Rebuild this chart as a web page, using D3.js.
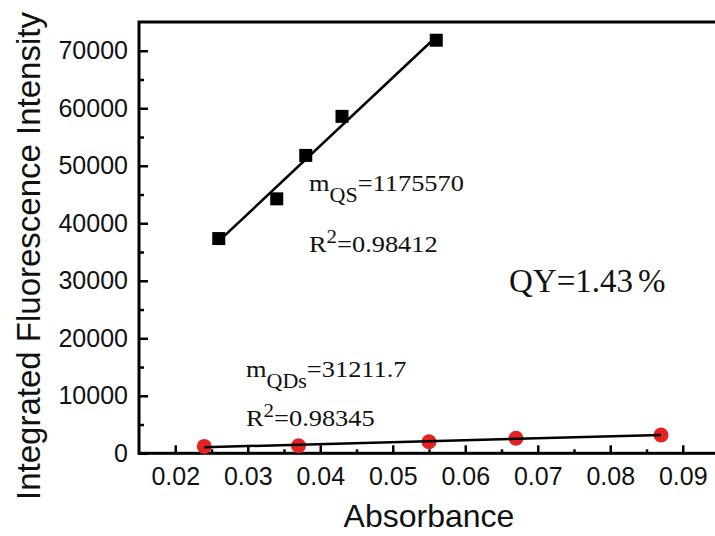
<!DOCTYPE html>
<html>
<head>
<meta charset="utf-8">
<script src="https://cdn.jsdelivr.net/npm/d3@7"></script>
<style>
    body { margin: 0; background: #fff; }
    svg { display: block; overflow: hidden; }
    .tick text { font-family: "Liberation Sans", Arial, sans-serif; font-size: 25px; fill: #111; }
    .note { font-family: "Liberation Serif", "Times New Roman", serif; fill: #111; }
</style>
</head>
<body>
<svg id="chart" width="715" height="536"></svg>
<script>
// reference dye (QS) - black squares
const qsAbs = [0.026, 0.034, 0.038, 0.043, 0.056];
const qsIntensity = [37340, 44250, 51800, 58590, 71830];
// quantum dots (QDs) - red circles
const qdAbs = [0.024, 0.037, 0.055, 0.067, 0.087];
const qdIntensity = [1200, 1320, 2020, 2610, 3190];

const xTicks = [0.02, 0.03, 0.04, 0.05, 0.06, 0.07, 0.08, 0.09];
const yTicks = [0, 10000, 20000, 30000, 40000, 50000, 60000, 70000];

const svg = d3.select('#chart');
const margin = { left: 139, top: 22 };
const plotW = 580, plotH = 431.3;

const x = d3.scaleLinear().domain([0.015, 0.095]).range([margin.left, margin.left + plotW]);
const y = d3.scaleLinear().domain([0, 75000]).range([margin.top + plotH, margin.top]);

// least squares fit, used for the straight lines
function fit(xs, ys) {
    const mx = d3.mean(xs), my = d3.mean(ys);
    let sxy = 0, sxx = 0;
    xs.forEach((v, i) => { sxy += (v - mx) * (ys[i] - my); sxx += (v - mx) * (v - mx); });
    const m = sxy / sxx;
    return v => my + m * (v - mx);
}

// frame
svg.append('rect')
    .attr('x', x(0.015)).attr('y', y(75000))
    .attr('width', x(0.095) - x(0.015)).attr('height', y(0) - y(75000))
    .attr('fill', 'none').attr('stroke', '#000').attr('stroke-width', 3);

// y axis, ticks pointing inwards
svg.append('g')
    .attr('transform', `translate(${margin.left},0)`)
    .call(d3.axisLeft(y).tickValues(yTicks).tickFormat(d3.format('d')).tickSizeInner(-9).tickSizeOuter(0).tickPadding(11))
    .call(g => g.select('.domain').remove())
    .call(g => g.selectAll('line').attr('stroke', '#000').attr('stroke-width', 2.5));
svg.append('g')
    .attr('transform', `translate(${margin.left},0)`)
    .call(d3.axisLeft(y).tickValues(d3.range(5000, 75000, 10000)).tickFormat('').tickSizeInner(-5).tickSizeOuter(0))
    .call(g => g.select('.domain').remove())
    .call(g => g.selectAll('line').attr('stroke', '#000').attr('stroke-width', 2.5));

// x axis
svg.append('g')
    .attr('transform', `translate(0,${y(0)})`)
    .call(d3.axisBottom(x).tickValues(xTicks).tickFormat(d3.format('.2f')).tickSizeInner(-8).tickSizeOuter(0).tickPadding(14))
    .call(g => g.select('.domain').remove())
    .call(g => g.selectAll('line').attr('stroke', '#000').attr('stroke-width', 2.5));
svg.append('g')
    .attr('transform', `translate(0,${y(0)})`)
    .call(d3.axisBottom(x).tickValues(d3.range(0.025, 0.095, 0.01)).tickFormat('').tickSizeInner(-4).tickSizeOuter(0))
    .call(g => g.select('.domain').remove())
    .call(g => g.selectAll('line').attr('stroke', '#000').attr('stroke-width', 2.5));

// axis titles
svg.append('text')
    .attr('x', 429).attr('y', 527)
    .attr('text-anchor', 'middle')
    .style('font-family', '"Liberation Sans", Arial, sans-serif')
    .style('font-size', '32px')
    .attr('fill', '#111')
    .text('Absorbance');
svg.append('text')
    .attr('transform', 'translate(40,256) rotate(-90)')
    .attr('text-anchor', 'middle')
    .style('font-family', '"Liberation Sans", Arial, sans-serif')
    .style('font-size', '33px')
    .attr('fill', '#111')
    .text('Integrated Fluorescence Intensity');

// markers
const qs = qsAbs.map((v, i) => ({ a: v, f: qsIntensity[i] }));
const qd = qdAbs.map((v, i) => ({ a: v, f: qdIntensity[i] }));

svg.append('g').selectAll('rect')
    .data(qs)
    .enter()
    .append('rect')
    .attr('x', d => x(d.a) - 6.5)
    .attr('y', d => y(d.f) - 6.5)
    .attr('width', 13).attr('height', 13)
    .attr('fill', '#000');

svg.append('g').selectAll('circle')
    .data(qd)
    .enter()
    .append('circle')
    .attr('cx', d => x(d.a))
    .attr('cy', d => y(d.f))
    .attr('r', 7.5)
    .attr('fill', '#e52222');

// fit lines
const qsFit = fit(qsAbs, qsIntensity);
const qdFit = fit(qdAbs, qdIntensity);
[[qsAbs, qsFit], [qdAbs, qdFit]].forEach(([xs, f]) => {
    const ends = d3.extent(xs);
    svg.append('line')
        .attr('x1', x(ends[0])).attr('y1', y(f(ends[0])))
        .attr('x2', x(ends[1])).attr('y2', y(f(ends[1])))
        .attr('stroke', '#000').attr('stroke-width', 2.5);
});

// annotations (text in the original is a bit wider than Times, hence the scale)
function note(px, py) {
    return svg.append('text').attr('class', 'note')
        .attr('transform', `translate(${px},${py}) scale(1.1,1)`)
        .style('font-size', '24px');
}
function slopeNote(px, py, sub, val) {
    const t = note(px, py);
    t.append('tspan').text('m');
    t.append('tspan').attr('dy', 11).style('font-size', '20px').text(sub);
    t.append('tspan').attr('dy', -11).text(val);
}
function r2Note(px, py, val) {
    const t = note(px, py);
    t.append('tspan').text('R');
    t.append('tspan').attr('dy', -9).style('font-size', '19px').text('2');
    t.append('tspan').attr('dy', 9).text(val);
}
slopeNote(309, 191, 'QS', '=1175570');
r2Note(309, 252, '=0.98412');
slopeNote(246, 377, 'QDs', '=31211.7');
r2Note(246, 426, '=0.98345');

const qy = svg.append('text').attr('class', 'note').attr('x', 509).attr('y', 292).style('font-size', '33px');
qy.append('tspan').text('QY=1.43');
qy.append('tspan').attr('dx', 5).style('font-weight', 300).text('%');
</script>
</body>
</html>
